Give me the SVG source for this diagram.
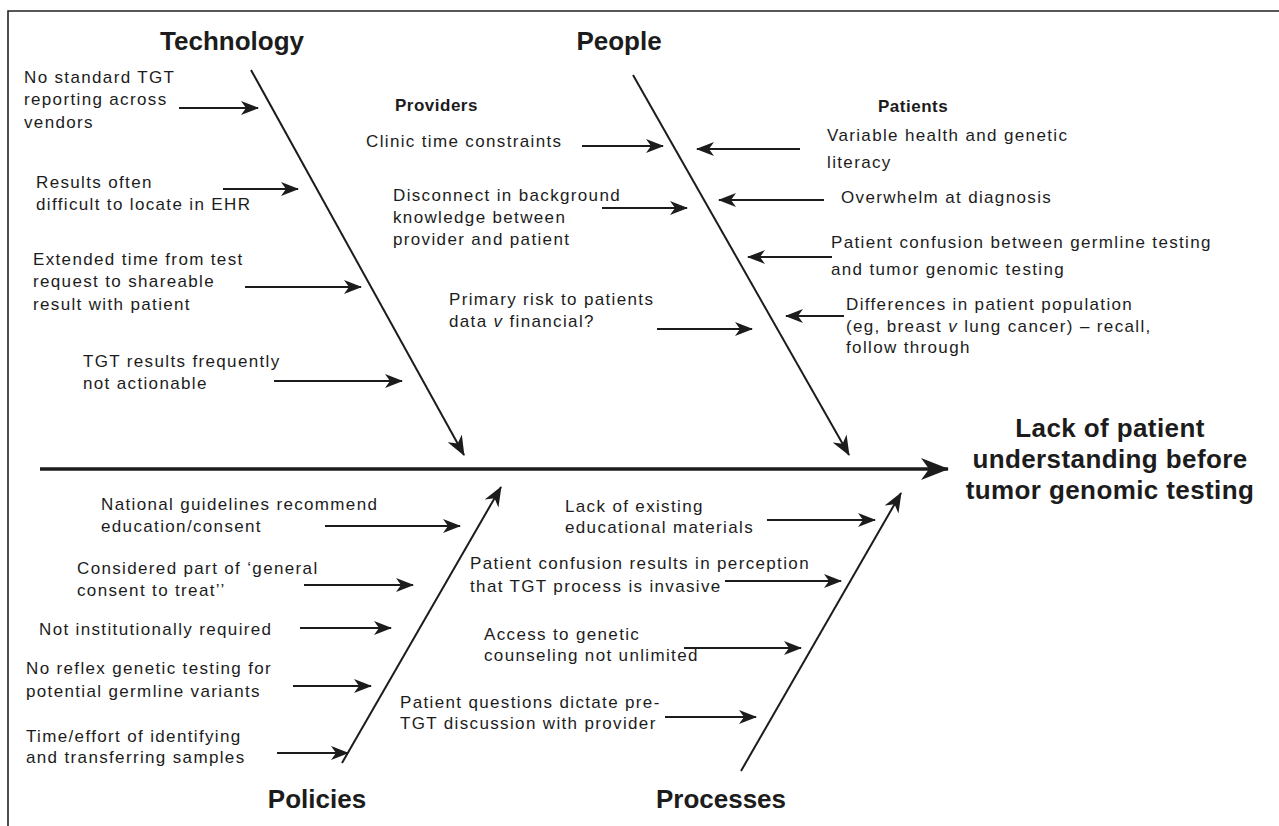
<svg xmlns="http://www.w3.org/2000/svg" width="1279" height="826" viewBox="0 0 1279 826">
<defs>
<style>
.t{font-family:"Liberation Sans",Arial,Helvetica,sans-serif;font-size:17px;letter-spacing:1.35px;fill:#1c1c1c}
.h{font-family:"Liberation Sans",Arial,Helvetica,sans-serif;font-size:26px;font-weight:bold;fill:#1c1c1c}
.s{font-family:"Liberation Sans",Arial,Helvetica,sans-serif;font-size:17px;font-weight:bold;letter-spacing:0.5px;fill:#1c1c1c}
.r{font-family:"Liberation Sans",Arial,Helvetica,sans-serif;font-size:26px;font-weight:bold;letter-spacing:0.4px;fill:#1c1c1c}
.a{stroke:#1c1c1c;stroke-width:2;fill:none;marker-end:url(#ma)}
.b{stroke:#1c1c1c;stroke-width:2;fill:none;marker-end:url(#mb)}
.i{font-style:italic}
</style>
<marker id="ma" markerUnits="userSpaceOnUse" markerWidth="18" markerHeight="14" viewBox="0 0 18 14" refX="17" refY="7" orient="auto"><path d="M0,0 L18,7 L0,14 L5,7 Z" fill="#1c1c1c"/></marker>
<marker id="mb" markerUnits="userSpaceOnUse" markerWidth="20" markerHeight="16" viewBox="0 0 20 16" refX="19" refY="8" orient="auto"><path d="M0,0 L20,8 L0,16 L6,8 Z" fill="#1c1c1c"/></marker>
<marker id="ms" markerUnits="userSpaceOnUse" markerWidth="28" markerHeight="22" viewBox="0 0 28 22" refX="27" refY="11" orient="auto"><path d="M0,0 L28,11 L0,22 L8,11 Z" fill="#1c1c1c"/></marker>
</defs>
<rect width="1279" height="826" fill="#fff"/>
<path d="M8,826 V11 H1279" fill="none" stroke="#222" stroke-width="1.6"/>

<g id="connectors">
<line x1="40" y1="469" x2="948" y2="469" stroke="#1c1c1c" stroke-width="3.4" marker-end="url(#ms)"/>
<line class="b" x1="251" y1="70" x2="464" y2="455"/>
<line class="b" x1="633" y1="75" x2="849" y2="455"/>
<line class="b" x1="342" y1="763" x2="501" y2="487"/>
<line class="b" x1="741" y1="771" x2="901" y2="493"/>
<line class="a" x1="179" y1="108" x2="258" y2="108"/>
<line class="a" x1="223" y1="189" x2="298" y2="189"/>
<line class="a" x1="245" y1="287" x2="361" y2="287"/>
<line class="a" x1="274" y1="381" x2="402" y2="381"/>
<line class="a" x1="582" y1="146" x2="663" y2="146"/>
<line class="a" x1="602" y1="208" x2="687" y2="208"/>
<line class="a" x1="657" y1="329" x2="752" y2="329"/>
<line class="a" x1="800" y1="149" x2="697" y2="149"/>
<line class="a" x1="824" y1="200" x2="719" y2="200"/>
<line class="a" x1="832" y1="257" x2="748" y2="257"/>
<line class="a" x1="844" y1="316" x2="786" y2="316"/>
<line class="a" x1="325" y1="526" x2="460" y2="526"/>
<line class="a" x1="304" y1="585" x2="413" y2="585"/>
<line class="a" x1="300" y1="628" x2="391" y2="628"/>
<line class="a" x1="293" y1="686" x2="371" y2="686"/>
<line class="a" x1="277" y1="753" x2="348" y2="753"/>
<line class="a" x1="767" y1="520" x2="875" y2="520"/>
<line class="a" x1="725" y1="581" x2="841" y2="581"/>
<line class="a" x1="684" y1="648" x2="801" y2="648"/>
<line class="a" x1="665" y1="717" x2="756" y2="717"/>
</g>

<g id="effect"><text class="r" text-anchor="middle"><tspan x="1110" y="437">Lack of patient</tspan><tspan x="1110" y="468">understanding before</tspan><tspan x="1110" y="499">tumor genomic testing</tspan></text></g>

<g id="technology">
<text class="h" x="232" y="50" text-anchor="middle">Technology</text>
<text class="t"><tspan x="24" y="83">No standard TGT</tspan><tspan x="24" y="105">reporting across</tspan><tspan x="24" y="128">vendors</tspan></text>
<text class="t"><tspan x="36" y="188">Results often</tspan><tspan x="36" y="210">difficult to locate in EHR</tspan></text>
<text class="t"><tspan x="33" y="265">Extended time from test</tspan><tspan x="33" y="287">request to shareable</tspan><tspan x="33" y="310">result with patient</tspan></text>
<text class="t"><tspan x="83" y="367">TGT results frequently</tspan><tspan x="83" y="389">not actionable</tspan></text>
</g>

<g id="people">
<text class="h" x="619" y="50" text-anchor="middle">People</text>
<text class="s" x="395" y="111">Providers</text>
<text class="t" x="366" y="147">Clinic time constraints</text>
<text class="t"><tspan x="393" y="201">Disconnect in background</tspan><tspan x="393" y="223">knowledge between</tspan><tspan x="393" y="245">provider and patient</tspan></text>
<text class="t"><tspan x="449" y="305">Primary risk to patients</tspan><tspan x="449" y="327">data <tspan class="i">v</tspan> financial?</tspan></text>
<text class="s" x="878" y="112">Patients</text>
<text class="t"><tspan x="827" y="141">Variable health and genetic</tspan><tspan x="827" y="168">literacy</tspan></text>
<text class="t" x="841" y="203">Overwhelm at diagnosis</text>
<text class="t"><tspan x="831" y="248">Patient confusion between germline testing</tspan><tspan x="831" y="275">and tumor genomic testing</tspan></text>
<text class="t"><tspan x="846" y="310">Differences in patient population</tspan><tspan x="846" y="332">(eg, breast <tspan class="i">v</tspan> lung cancer) – recall,</tspan><tspan x="846" y="353">follow through</tspan></text>
</g>

<g id="policies">
<text class="h" x="317" y="808" text-anchor="middle">Policies</text>
<text class="t"><tspan x="101" y="510">National guidelines recommend</tspan><tspan x="101" y="532">education/consent</tspan></text>
<text class="t"><tspan x="77" y="574">Considered part of ‘general</tspan><tspan x="77" y="596">consent to treat’’</tspan></text>
<text class="t" x="39" y="635">Not institutionally required</text>
<text class="t"><tspan x="26" y="674">No reflex genetic testing for</tspan><tspan x="26" y="697">potential germline variants</tspan></text>
<text class="t"><tspan x="26" y="742">Time/effort of identifying</tspan><tspan x="26" y="763">and transferring samples</tspan></text>
</g>

<g id="processes">
<text class="h" x="721" y="808" text-anchor="middle">Processes</text>
<text class="t"><tspan x="565" y="512">Lack of existing</tspan><tspan x="565" y="533">educational materials</tspan></text>
<text class="t"><tspan x="470" y="569">Patient confusion results in perception</tspan><tspan x="470" y="592">that TGT process is invasive</tspan></text>
<text class="t"><tspan x="484" y="640">Access to genetic</tspan><tspan x="484" y="661">counseling not unlimited</tspan></text>
<text class="t"><tspan x="400" y="708">Patient questions dictate pre-</tspan><tspan x="400" y="729">TGT discussion with provider</tspan></text>
</g>
</svg>
